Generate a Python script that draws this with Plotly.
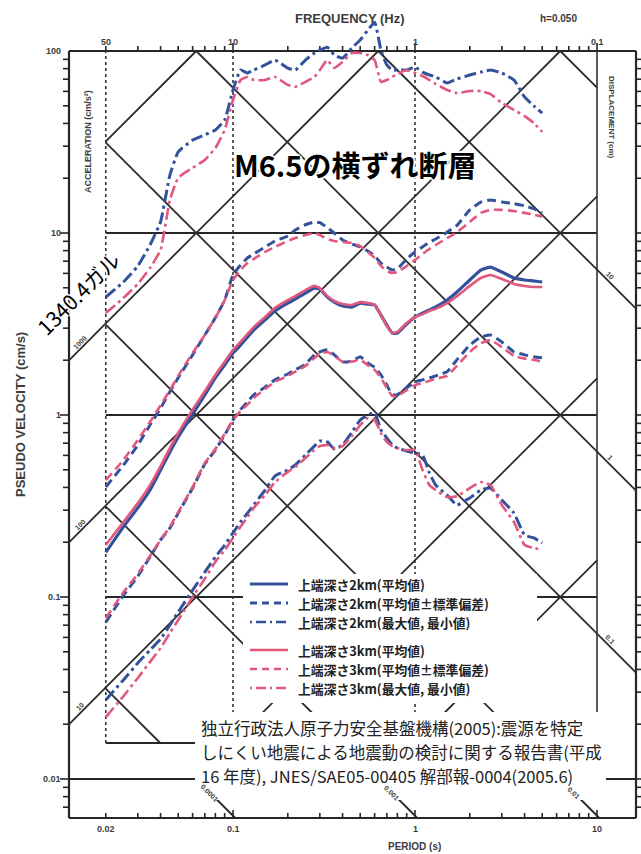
import math
import plotly.graph_objects as go

# ---------------- data ----------------
PERIOD = [0.02, 0.025, 0.03, 0.035, 0.04, 0.045, 0.05, 0.06, 0.07, 0.08, 0.09, 0.1,
          0.11, 0.12, 0.13, 0.15, 0.17, 0.2, 0.22, 0.25, 0.28, 0.3, 0.33, 0.36, 0.4,
          0.45, 0.5, 0.55, 0.6, 0.65, 0.7, 0.75, 0.8, 0.9, 1.0, 1.1, 1.2, 1.3, 1.5,
          1.7, 2.0, 2.3, 2.6, 3.0, 3.5, 4.0, 4.5, 5.0]

D2_MAX = [4.45, 5.38, 6.59, 8.59, 11.5, 20.8, 27.9, 32.4, 34.6, 36.8, 41.8, 61.1,
          78.6, 75.7, 78.6, 83.8, 89.2, 80.6, 78.6, 89.2, 97.5, 101, 105, 95.1, 91.5,
          104, 115, 130, 144, 101, 83.8, 78.6, 78.6, 78.6, 81.7, 76.6, 73.8, 72.0, 66.8,
          70.2, 73.8, 76.6, 78.6, 75.7, 69.3, 55.9, 49.9, 45.6]
D2_PLUS = [0.402, 0.531, 0.684, 0.881, 1.09, 1.34, 1.60, 2.14, 2.75, 3.42, 4.28, 5.88,
           6.67, 7.29, 7.67, 8.38, 9.04, 9.63, 10.4, 11.1, 11.5, 11.4, 10.7, 10.0, 9.15,
           8.70, 8.38, 7.97, 7.48, 6.84, 6.50, 6.26, 6.34, 7.20, 7.87, 8.38, 8.92, 9.27, 10.1,
           11.0, 13.4, 14.8, 15.2, 14.8, 14.5, 14.1, 13.6, 12.9]
D2_MEAN = [0.176, 0.243, 0.309, 0.387, 0.499, 0.626, 0.757, 1.01, 1.29, 1.60, 1.88, 2.19,
           2.42, 2.68, 2.93, 3.33, 3.73, 4.12, 4.33, 4.68, 4.98, 4.92, 4.45, 4.17, 3.97,
           3.92, 4.12, 4.07, 4.02, 3.54, 3.12, 2.82, 2.82, 3.16, 3.45, 3.63, 3.78, 3.92, 4.28,
           4.74, 5.52, 6.26, 6.50, 6.10, 5.66, 5.52, 5.45, 5.38]
D2_MINUS = [0.0728, 0.102, 0.130, 0.166, 0.206, 0.239, 0.289, 0.397, 0.538, 0.642, 0.776, 0.939,
            1.07, 1.18, 1.29, 1.42, 1.56, 1.68, 1.77, 1.90, 2.14, 2.22, 2.28, 2.14, 1.96,
            1.98, 2.09, 1.93, 1.83, 1.66, 1.46, 1.29, 1.29, 1.41, 1.52, 1.56, 1.60, 1.64, 1.73,
            2.01, 2.42, 2.68, 2.75, 2.52, 2.22, 2.14, 2.09, 2.06]
D2_MIN = [0.0272, 0.0350, 0.0434, 0.0511, 0.0587, 0.0702, 0.0828, 0.109, 0.137, 0.166, 0.193, 0.225,
          0.258, 0.289, 0.320, 0.387, 0.462, 0.499, 0.531, 0.603, 0.675, 0.720, 0.711, 0.650, 0.684,
          0.806, 0.939, 1.00, 1.03, 0.827, 0.748, 0.684, 0.658, 0.634, 0.618, 0.603, 0.480, 0.412, 0.363,
          0.320, 0.350, 0.387, 0.397, 0.341, 0.289, 0.219, 0.211, 0.198]

D3_MAX = [3.63, 4.39, 5.25, 6.42, 8.07, 15.2, 20.1, 22.8, 25.2, 29.3, 36.8, 53.8,
          69.3, 72.0, 69.3, 69.3, 72.0, 65.1, 63.5, 67.6, 72.0, 78.6, 89.2, 80.6, 87.0,
          97.5, 97.5, 95.1, 89.2, 67.6, 69.3, 72.0, 74.7, 78.6, 75.7, 72.9, 69.3, 65.9, 61.1,
          58.8, 60.3, 60.3, 58.0, 51.8, 47.4, 43.9, 40.2, 35.9]
D3_PLUS = [0.439, 0.566, 0.729, 0.916, 1.13, 1.37, 1.64, 2.19, 2.75, 3.42, 4.28, 5.52,
           6.26, 6.84, 7.20, 7.87, 8.38, 9.04, 9.38, 9.75, 10.0, 9.75, 9.27, 9.04, 8.92,
           8.81, 8.48, 7.87, 7.29, 6.59, 6.18, 6.03, 6.10, 6.59, 7.11, 7.67, 8.17, 8.59, 9.38,
           10.1, 11.5, 12.9, 13.4, 13.4, 13.2, 12.9, 12.6, 12.3]
D3_MEAN = [0.193, 0.258, 0.328, 0.412, 0.524, 0.658, 0.796, 1.07, 1.35, 1.66, 1.96, 2.28,
           2.52, 2.78, 3.04, 3.45, 3.88, 4.28, 4.50, 4.86, 5.12, 4.98, 4.50, 4.23, 4.07,
           4.02, 4.17, 4.12, 4.02, 3.54, 3.08, 2.82, 2.86, 3.20, 3.45, 3.58, 3.73, 3.83, 4.12,
           4.50, 5.12, 5.66, 5.88, 5.59, 5.25, 5.12, 5.05, 5.05]
D3_MINUS = [0.0766, 0.106, 0.134, 0.168, 0.206, 0.243, 0.293, 0.402, 0.545, 0.650, 0.786, 0.939,
            1.05, 1.14, 1.24, 1.39, 1.52, 1.64, 1.73, 1.86, 2.06, 2.17, 2.22, 2.11, 1.96,
            1.96, 2.01, 1.88, 1.77, 1.60, 1.41, 1.27, 1.27, 1.37, 1.46, 1.50, 1.54, 1.58, 1.64,
            1.86, 2.22, 2.48, 2.58, 2.36, 2.11, 2.04, 2.01, 1.96]
D3_MIN = [0.0219, 0.0285, 0.0359, 0.0440, 0.0524, 0.0634, 0.0747, 0.100, 0.126, 0.156, 0.181, 0.211,
          0.243, 0.275, 0.309, 0.363, 0.428, 0.487, 0.518, 0.580, 0.642, 0.675, 0.684, 0.658, 0.675,
          0.766, 0.881, 0.963, 0.939, 0.796, 0.711, 0.675, 0.658, 0.642, 0.642, 0.499, 0.412, 0.387, 0.354,
          0.358, 0.397, 0.428, 0.412, 0.320, 0.258, 0.193, 0.186, 0.181]

# ---------------- chart grid / labels ----------------
VEL_DECADES = [100, 10, 1, 0.1, 0.01]
VEL_LABELS = ["100", "10", "1", "0.1", "0.01"]
PERIOD_DECADES = [0.02, 0.1, 1, 10]
PERIOD_LABELS = ["0.02", "0.1", "1", "10"]
FREQ_LABELS = ["50", "10", "1", "0.1"]
ACC_LINES = [0.1, 1, 10, 100, 1000, 10000]          # cm/s2
ACC_LABELED = {10: "10", 100: "100", 1000: "1000"}
DISP_LINES = [1e-4, 1e-3, 1e-2, 0.1, 1, 10, 100]      # cm
DISP_RIGHT = {0.1: "0.1", 1: "1", 10: "10"}
DISP_BOTTOM = {1e-4: "0.0001", 1e-3: "0.001", 1e-2: "0.01"}

TITLE = "M6.5の横ずれ断層"
PGA_NOTE = "1340.4ガル"
LEGEND_LABELS = ["上端深さ2km(平均値)", "上端深さ2km(平均値±標準偏差)", "上端深さ2km(最大値, 最小値)",
                 "上端深さ3km(平均値)", "上端深さ3km(平均値±標準偏差)", "上端深さ3km(最大値, 最小値)"]
SOURCE_LINES = ["独立行政法人原子力安全基盤機構(2005):震源を特定",
                "しにくい地震による地震動の検討に関する報告書(平成",
                "16 年度), JNES/SAE05-00405 解部報-0004(2005.6)"]

# ---------------- geometry ----------------
W, H = 641, 854
DEC = 182.0
X0 = 415.0
Y0 = 415.0
X_RANGE = [(0 - X0) / DEC, (W - X0) / DEC]
Y_RANGE = [(Y0 - H) / DEC, Y0 / DEC]


def T_at(px):
    return 10 ** ((px - X0) / DEC)


def V_at(py):
    return 10 ** ((Y0 - py) / DEC)


def PX(x):
    return x / W


def PY(y):
    return 1 - y / H


T_FL, T_FR = T_at(69), T_at(636)
V_FT, V_FB = 100.0, V_at(818)
T_IL, T_IR = 0.02, 10.0
V_IB = V_at(743)
TP = 2 * math.pi

BLUE = "#34519c"
RED = "#e2577c"
INK = "#262626"
GRAYTXT = "#3c3c3c"
SANS = "Liberation Sans, Arial, sans-serif"
JP = "Noto Sans CJK JP"

fig = go.Figure()


def add_segs(segs, color, width, dash=None):
    xs, ys = [], []
    for (xa, ya), (xb, yb) in segs:
        xs += [xa, xb, None]
        ys += [ya, yb, None]
    fig.add_trace(go.Scatter(x=xs, y=ys, mode="lines",
                             line=dict(color=color, width=width, dash=dash),
                             hoverinfo="skip", showlegend=False))


# frame
add_segs([((T_FL, V_FT), (T_FR, V_FT)), ((T_FR, V_FT), (T_FR, V_FB)),
          ((T_FR, V_FB), (T_FL, V_FB)), ((T_FL, V_FB), (T_FL, V_FT))], INK, 2.2)
# horizontal velocity lines
hsegs = [((T_IL, v), (T_IR, v)) for v in VEL_DECADES if 0.05 < v < 50]
hsegs.append(((T_IL, V_IB), (T_IR, V_IB)))
hsegs.append(((T_FL, 0.01), (T_FR, 0.01)))
add_segs(hsegs, INK, 2.0)
# vertical period lines
add_segs([((t, V_IB), (t, V_FT)) for t in PERIOD_DECADES[:-1]], "#333333", 1.6, "dot")
add_segs([((T_IR, V_IB), (T_IR, V_FT))], "#333333", 1.6)

# diagonal acceleration lines  V = A T / 2pi
dsegs = []
for a in ACC_LINES:
    t0 = max(T_IL, TP * V_IB / a)
    t1 = min(T_IR, TP * V_FT / a)
    if t0 < t1:
        dsegs.append(((t0, a * t0 / TP), (t1, a * t1 / TP)))
for a in ACC_LABELED:
    dsegs.append(((T_FL, a * T_FL / TP), (T_IL, a * T_IL / TP)))
# diagonal displacement lines  V = 2pi D / T
for d in DISP_LINES:
    t0 = max(T_IL, TP * d / V_FT)
    t1 = min(T_IR, TP * d / V_IB)
    if t0 < t1:
        dsegs.append(((t0, TP * d / t0), (t1, TP * d / t1)))
for d in DISP_RIGHT:
    dsegs.append(((T_IR, TP * d / T_IR), (T_FR, TP * d / T_FR)))
V_STUB = V_at(786)
for d in DISP_BOTTOM:
    dsegs.append(((TP * d / V_STUB, V_STUB), (TP * d / V_FB, V_FB)))
add_segs(dsegs, "#2c2c2c", 1.8)

# ticks
vt = []
for n in range(-3, 2):
    for k in range(1, 10):
        v = k * 10 ** n
        if V_FB <= v <= 100.0001:
            vt.append((v, k == 1))
tt = []
for n in range(-2, 1):
    for k in range(1, 10):
        t = k * 10 ** n
        if 0.0199 <= t <= 10:
            tt.append((t, k == 1))
tt.append((10, True))
tsegs = []
for v, major in vt:
    ln = 9 if major else 6
    tsegs.append(((T_FL / 10 ** (ln / DEC), v), (T_FL, v)))
    tsegs.append(((T_FR, v), (T_FR * 10 ** (5 / DEC), v)))
for t, major in tt:
    ln = 8 if major else 5
    tsegs.append(((t, V_FT), (t, V_FT * 10 ** (ln / DEC))))
    tsegs.append(((t, V_FB), (t, V_FB * 10 ** (ln / DEC))))
add_segs(tsegs, INK, 1.6)

# spectra
def pair(a, b):
    return PERIOD + [None] + PERIOD, a + [None] + b


def curve(x, y, color, width, dash):
    fig.add_trace(go.Scatter(x=x, y=y, mode="lines", connectgaps=False,
                             line=dict(color=color, width=width, dash=dash,
                                       shape="spline", smoothing=0.4),
                             hoverinfo="skip", showlegend=False))


DASH = "9px,5px"
DASHDOT = "12px,4px,3px,4px"
x, y = pair(D2_MAX, D2_MIN)
curve(x, y, BLUE, 3, DASHDOT)
x, y = pair(D2_PLUS, D2_MINUS)
curve(x, y, BLUE, 3, DASH)
curve(PERIOD, D2_MEAN, BLUE, 3.2, None)
x, y = pair(D3_MAX, D3_MIN)
curve(x, y, RED, 2.6, DASHDOT)
x, y = pair(D3_PLUS, D3_MINUS)
curve(x, y, RED, 2.6, DASH)
curve(PERIOD, D3_MEAN, RED, 2.6, None)

# ---------------- shapes (white boxes, legend samples) ----------------
shapes = [
    dict(type="rect", xref="paper", yref="paper", x0=PX(243), x1=PX(537), y0=PY(703), y1=PY(574),
         fillcolor="white", line=dict(width=0), layer="above"),
    dict(type="rect", xref="paper", yref="paper", x0=PX(195), x1=PX(606), y0=PY(800), y1=PY(712),
         fillcolor="white", line=dict(width=0), layer="above"),
]
LEG_ROWS = [584, 603, 622, 650, 669, 688]
LEG_STYLE = [(BLUE, 3, "solid"), (BLUE, 3, "7px,5px"), (BLUE, 2.6, "2px,4px,10px,4px"),
             (RED, 2.6, "solid"), (RED, 2.6, "7px,5px"), (RED, 2.6, "2px,4px,10px,4px")]
annotations = []
for row, (c, w, d), lab in zip(LEG_ROWS, LEG_STYLE, LEGEND_LABELS):
    shapes.append(dict(type="line", xref="paper", yref="paper", x0=PX(250), x1=PX(288),
                       y0=PY(row), y1=PY(row), line=dict(color=c, width=w, dash=d), layer="above"))
    annotations.append(dict(text=lab, xref="paper", yref="paper", x=PX(296), y=PY(row),
                            xanchor="left", yanchor="middle", showarrow=False,
                            font=dict(family=JP, size=12.8, color="#222222", weight="bold")))

for i, line in enumerate(SOURCE_LINES):
    annotations.append(dict(text=line, xref="paper", yref="paper", x=PX(199), y=PY(728 + 24 * i),
                            xanchor="left", yanchor="middle", showarrow=False,
                            font=dict(family=JP, size=16.5, color="#222222")))

HALO = "2px 0 1px white, -2px 0 1px white, 0 2px 1px white, 0 -2px 1px white, 1px 1px 1px white, -1px -1px 1px white"
annotations.append(dict(text=TITLE, xref="paper", yref="paper", x=PX(355), y=PY(164),
                        showarrow=False, xanchor="center", yanchor="middle",
                        font=dict(family=JP, size=29, color="black", weight="bold", shadow=HALO)))
annotations.append(dict(text=PGA_NOTE, xref="paper", yref="paper", x=PX(78), y=PY(293),
                        showarrow=False, textangle=-45, xanchor="center", yanchor="middle",
                        font=dict(family=JP, size=21, color="black", shadow=HALO)))


def small(text, x, y, xref="paper", yref="paper", size=9, angle=0, xanchor="center",
          yanchor="middle", xshift=0, yshift=0):
    annotations.append(dict(text=text, xref=xref, yref=yref, x=x, y=y, showarrow=False,
                            textangle=angle, xanchor=xanchor, yanchor=yanchor,
                            xshift=xshift, yshift=yshift,
                            font=dict(family=SANS, size=size, color=GRAYTXT, weight="bold")))


for v, lab in zip(VEL_DECADES, VEL_LABELS):
    small(lab, PX(63), math.log10(v), yref="y", xanchor="right")
for t, lab in zip(PERIOD_DECADES, PERIOD_LABELS):
    small(lab, math.log10(t), PY(829), xref="x")
for t, lab in zip(PERIOD_DECADES, FREQ_LABELS):
    small(lab, math.log10(t), PY(42), xref="x")
small("FREQUENCY (Hz)", PX(350), PY(18), size=13)
small("h=0.050", PX(558), PY(18), size=10)
small("PERIOD (s)", PX(415), PY(846), size=10)
small("PSEUDO VELOCITY (cm/s)", PX(20), PY(415), size=13, angle=-90)
small("ACCELERATION (cm/s²)", PX(88), PY(142), size=9, angle=-90)
small("DISPLACEMENT (cm)", PX(612), PY(117), size=8, angle=90)

for a, lab in ACC_LABELED.items():
    t = T_at(81)
    small(lab, math.log10(t), math.log10(a * t / TP), xref="x", yref="y", size=7, angle=-45,
          yshift=6, xshift=-1)
for d, lab in DISP_RIGHT.items():
    t = T_at(609)
    small(lab, math.log10(t), math.log10(TP * d / t), xref="x", yref="y", size=7, angle=45,
          yshift=6, xshift=1)
for d, lab in DISP_BOTTOM.items():
    v = V_at(798)
    small(lab, math.log10(TP * d / v), math.log10(v), xref="x", yref="y", size=7, angle=45,
          yshift=5, xshift=-5)

fig.update_layout(
    width=W, height=H, margin=dict(l=0, r=0, t=0, b=0),
    paper_bgcolor="white", plot_bgcolor="white", showlegend=False,
    xaxis=dict(type="log", range=X_RANGE, showgrid=False, zeroline=False, showticklabels=False,
               ticks="", showline=False, fixedrange=True),
    yaxis=dict(type="log", range=Y_RANGE, showgrid=False, zeroline=False, showticklabels=False,
               ticks="", showline=False, fixedrange=True),
    shapes=shapes, annotations=annotations, dragmode=False,
)

fig.write_html("out.html", config={"displayModeBar": False},
               post_script="document.body.style.margin='0';document.body.style.overflow='hidden';")
